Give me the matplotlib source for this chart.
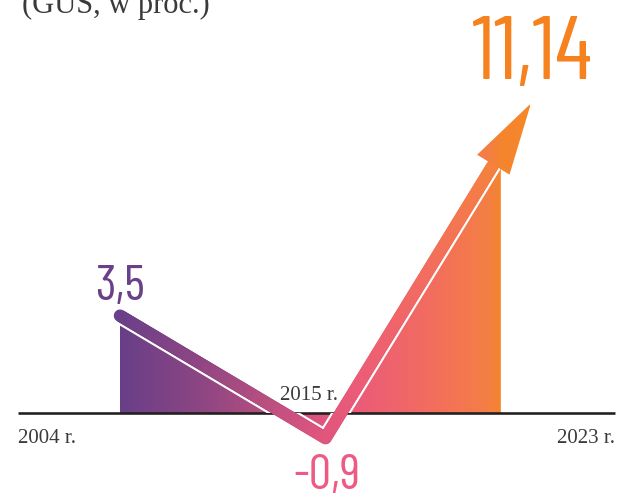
import os
import numpy as np
import matplotlib
matplotlib.use('Agg')
import matplotlib.pyplot as plt
from matplotlib import font_manager as fm
from matplotlib.colors import LinearSegmentedColormap
from matplotlib.collections import LineCollection
from matplotlib.patches import Polygon
from matplotlib.font_manager import FontProperties

# ---------------- data ----------------
categories = ['2004 r.', '2015 r.', '2023 r.']
values = [3.5, -0.9, 11.14]
value_labels = ['3,5', '-0,9', '11,14']
title_text = '(GUS, w proc.)'

# ---------------- fonts ----------------
def pick_font(families, weight=400):
    for fam in families:
        best = None
        for f in fm.fontManager.ttflist:
            if f.name != fam or f.style != 'normal':
                continue
            w = f.weight if isinstance(f.weight, (int, float)) else 400
            key = abs(w - weight)
            if best is None or key < best[0]:
                best = (key, f.fname)
        if best is not None:
            return FontProperties(fname=best[1])
    return FontProperties(family=['Roboto', 'DejaVu Sans'])

cond_fp = pick_font(['Barlow Condensed', 'Asap Condensed', 'Archivo Narrow', 'Roboto Condensed'], 400)
serif = ['Liberation Serif', 'DejaVu Serif']

# ---------------- figure ----------------
W, H, DPI = 619, 499, 100
fig = plt.figure(figsize=(W / DPI, H / DPI), dpi=DPI)
ax = fig.add_axes([0, 0, 1, 1])
ax.set_axis_off()

x0_px, step_px = 120.0, 205.5
base_py = 413.0
unit_py = 27.8
xlim = (-x0_px / step_px, (W - x0_px) / step_px)
ylim = (-(H - base_py) / unit_py, base_py / unit_py)

def px2x(px):
    return (px - x0_px) / step_px

xs = np.arange(len(values), dtype=float)
vals = np.array(values, dtype=float)

cmap = LinearSegmentedColormap.from_list('infl', [
    (0.00, '#683F88'),
    (0.20, '#8E4683'),
    (0.35, '#B44E80'),
    (0.50, '#E0557E'),
    (0.60, '#EC5D76'),
    (0.75, '#F26C60'),
    (0.90, '#F47F44'),
    (0.93, '#F5842E'),
    (1.00, '#F6882A'),
])
g0_px, g1_px = 120.0, 530.0

ax.set_xlim(*xlim)
ax.set_ylim(*ylim)
fig.canvas.draw()

# arrow head geometry (display px)
T = ax.transData.transform((xs[2], vals[2]))
Vv = ax.transData.transform((xs[1], vals[1]))
u = (T - Vv) / np.linalg.norm(T - Vv)
nrm = np.array([u[1], -u[0]])
head_len, head_half = 72.0, 19.0
B = T - head_len * u
inv = ax.transData.inverted()
head = inv.transform([T, B + head_half * nrm, B - head_half * nrm])
Bd = inv.transform(B)
cut_x = inv.transform(B + np.array([7.5, 0.0]))[0]
cut_y = vals[1] + (cut_x - xs[1]) * (vals[2] - vals[1]) / (xs[2] - xs[1])

# area polygon
area_pts = [(xs[0], 0), (xs[0], vals[0]), (xs[1], vals[1]), (cut_x, cut_y), (cut_x, 0)]
area_patch = Polygon(area_pts, closed=True, fc='none', ec='none', transform=ax.transData)
ax.add_patch(area_patch)

grad = np.linspace(0, 1, 512).reshape(1, -1)
ext = [px2x(g0_px), px2x(g1_px), ylim[0], ylim[1]]
im = ax.imshow(grad, extent=ext, aspect='auto', cmap=cmap, zorder=1, interpolation='bilinear')
im.set_clip_path(area_patch)

# baseline
ax.plot([px2x(18), px2x(615)], [0, 0], color='#231F20', lw=2.6 * 72 / DPI,
        solid_capstyle='butt', zorder=2)

# band line
band_x = [xs[0], xs[1], Bd[0]]
band_y = [vals[0], vals[1], Bd[1]]
halo, = ax.plot(band_x, band_y, color='white', lw=17 * 72 / DPI,
                solid_capstyle='round', solid_joinstyle='round', zorder=3)
halo.set_clip_path(area_patch)

pts = []
for i in range(len(band_x) - 1):
    t = np.linspace(0, 1, 120, endpoint=(i == len(band_x) - 2))
    pts.append(np.column_stack([band_x[i] + t * (band_x[i + 1] - band_x[i]),
                                band_y[i] + t * (band_y[i + 1] - band_y[i])]))
pts = np.vstack(pts)
segs = np.stack([pts[:-1], pts[1:]], axis=1)
mid_px = ax.transData.transform(segs.mean(axis=1))[:, 0]
tcol = np.clip((mid_px - g0_px) / (g1_px - g0_px), 0, 1)
lc = LineCollection(segs, colors=cmap(tcol), linewidths=12.5 * 72 / DPI,
                    capstyle='round', joinstyle='round', zorder=4)
ax.add_collection(lc)

# arrow head with gradient
head_patch = Polygon(head, closed=True, fc='none', ec='none', transform=ax.transData)
ax.add_patch(head_patch)
im2 = ax.imshow(grad, extent=ext, aspect='auto', cmap=cmap, zorder=5, interpolation='bilinear')
im2.set_clip_path(head_patch)
ax.set_xlim(*xlim)
ax.set_ylim(*ylim)

# value labels
label_cols = ['#6A4189', '#EE5A84', '#F5821F']
label_sizes = [36, 36, 64]
label_off = [(0, 16), (1, -51), (1, 24)]
for i in range(len(values)):
    ax.annotate(value_labels[i], xy=(xs[i], vals[i]), xytext=label_off[i],
                textcoords='offset pixels', ha='center', va='baseline',
                color=label_cols[i], fontproperties=cond_fp,
                fontsize=label_sizes[i], zorder=6)

# category labels
txt_col = '#3A3A3A'
ax.text(px2x(18), -30 / unit_py, categories[0], ha='left', va='baseline',
        fontsize=15, family=serif, color=txt_col, zorder=6)
ax.annotate(categories[1], xy=(xs[1], 0), xytext=(-17, 13), textcoords='offset pixels',
            ha='center', va='baseline', fontsize=15, family=serif, color=txt_col, zorder=6)
ax.text(px2x(615), -30 / unit_py, categories[2], ha='right', va='baseline',
        fontsize=15, family=serif, color=txt_col, zorder=6)

# title (cut off at top, as in the reference)
fig.text(22 / W, 1 - 13 / H, title_text, ha='left', va='baseline',
         fontsize=22, family=serif, color=txt_col)

fig.savefig('out.png', dpi=DPI)
